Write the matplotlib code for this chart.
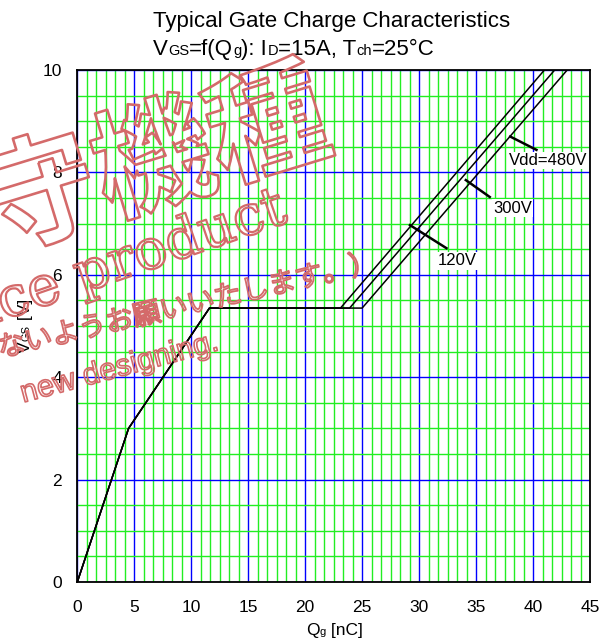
import matplotlib

matplotlib.use("Agg")
import matplotlib.pyplot as plt  # noqa: E402
from matplotlib import font_manager, ft2font, patheffects  # noqa: E402
from matplotlib.ticker import MultipleLocator  # noqa: E402
from matplotlib.transforms import IdentityTransform  # noqa: E402

plt.rcParams["font.family"] = ["Liberation Sans", "DejaVu Sans"]

# gate charge curve: common rise up to the Miller plateau
QG_RISE = [0.0, 4.5, 11.6]
VGS_RISE = [0.0, 3.0, 5.35]
VGS_PLATEAU = 5.35
VGS_TOP = 10.0

# one branch per drain voltage
VDD_LABELS = ["120V", "300V", "Vdd=480V"]
QG_PLATEAU_END = [23.1, 23.9, 25.0]
QG_AT_TOP = [41.0, 41.9, 43.0]

X_TICKS = [0, 5, 10, 15, 20, 25, 30, 35, 40, 45]
Y_TICKS = [0, 2, 4, 6, 8, 10]

# label anchors (data coords): leader start, leader end, text position
LEADERS = [
    ((29.2, 6.97), (32.4, 6.52), (31.6, 6.27)),
    ((34.1, 7.85), (36.2, 7.52), (36.5, 7.30)),
    ((38.0, 8.70), (40.3, 8.44), (37.9, 8.23)),
]

W, H = 612, 644
WM_COLOR = "#d46a6a"
_FONT = ft2font.FT2Font(font_manager.findfont("Liberation Sans"))


def advance(s, size):
    """Pen advance of a string in pixels at 100 dpi."""
    _FONT.set_size(size, 100)
    return sum(_FONT.load_char(ord(c)).linearHoriAdvance for c in s) / 65536


def rich_text(fig, x, y, parts, rotation=0):
    """Draw text pieces of mixed size on one baseline (pixel coords)."""
    for s, size in parts:
        fig.text(x, y, s, fontsize=size, transform=IdentityTransform(),
                 ha="left", va="baseline", rotation=rotation,
                 rotation_mode="anchor")
        if rotation == 90:
            y += advance(s, size)
        else:
            x += advance(s, size)


def watermark(fig, x, y, s, size, rot, family, lw=1.6, **kw):
    fig.text(x, y, s, fontsize=size, transform=IdentityTransform(),
             ha="right", va="baseline", rotation=rot, rotation_mode="anchor",
             color="none", family=family, zorder=10,
             path_effects=[patheffects.Stroke(linewidth=lw, foreground=WM_COLOR)],
             **kw)


fig = plt.figure(figsize=(W / 100, H / 100), dpi=100)
ax = fig.add_axes([77.3 / W, 62 / H, 512.7 / W, 512 / H])

for end, top in zip(QG_PLATEAU_END, QG_AT_TOP):
    ax.plot(QG_RISE + [end, top], VGS_RISE + [VGS_PLATEAU, VGS_TOP],
            color="black", lw=1.1, zorder=3)

for (p0, p1, pt), lab in zip(LEADERS, VDD_LABELS):
    ax.plot([p0[0], p1[0]], [p0[1], p1[1]], color="black", lw=1.8, zorder=4)
    ax.text(pt[0], pt[1], lab, fontsize=12, ha="left", va="center", zorder=5,
            bbox=dict(facecolor="white", edgecolor="none", pad=1.0))

ax.set_xlim(0, 45)
ax.set_ylim(0, 10)
ax.set_xticks(X_TICKS)
ax.set_yticks(Y_TICKS)
ax.xaxis.set_minor_locator(MultipleLocator(5 / 6))
ax.yaxis.set_minor_locator(MultipleLocator(0.5))
ax.grid(True, which="major", color="#0000ff", lw=1.0, zorder=1)
ax.grid(True, which="minor", color="#22ee22", lw=1.0, zorder=0)
ax.set_axisbelow(True)
ax.tick_params(which="both", length=0, labelsize=12.5)
ax.tick_params(axis="x", pad=13)
ax.tick_params(axis="y", pad=11)
for sp in ax.spines.values():
    sp.set_linewidth(1.3)
    sp.set_zorder(6)

# titles and axis labels with small inline subscripts
fig.text(153.3, H - 27.3, "Typical Gate Charge Characteristics", fontsize=16,
         transform=IdentityTransform(), ha="left", va="baseline")
rich_text(fig, 153.3, H - 55, [("V", 16), ("GS", 10.5), ("=f(Q", 16), ("g", 10.5),
                               ("): I", 16), ("D", 10.5), ("=15A, T", 16),
                               ("ch", 10.5), ("=25°C", 16)])
rich_text(fig, 306, H - 635, [("Q", 12.5), ("g", 8), (" [nC]", 12.5)])
rich_text(fig, 30, H - 353, [("V", 12.5), ("GS", 8), (" [V]", 12.5)], rotation=90)

# discontinued-product stamp
watermark(fig, 336, H - 146, "保守機種", 86, 17, ["Noto Sans CJK JP"], lw=1.9,
          fontweight="bold")
watermark(fig, 288, H - 222, "Maintenance product", 40, 19, ["DejaVu Serif"])
watermark(fig, 378, H - 270, "新規設計には使用しないようお願いいたします。）", 20, 13,
          ["Noto Sans CJK JP"], lw=1.3)
watermark(fig, 219, H - 350, "new designing.", 22, 15, ["Liberation Sans"], lw=1.2)

fig.savefig("out.png", dpi=100)
